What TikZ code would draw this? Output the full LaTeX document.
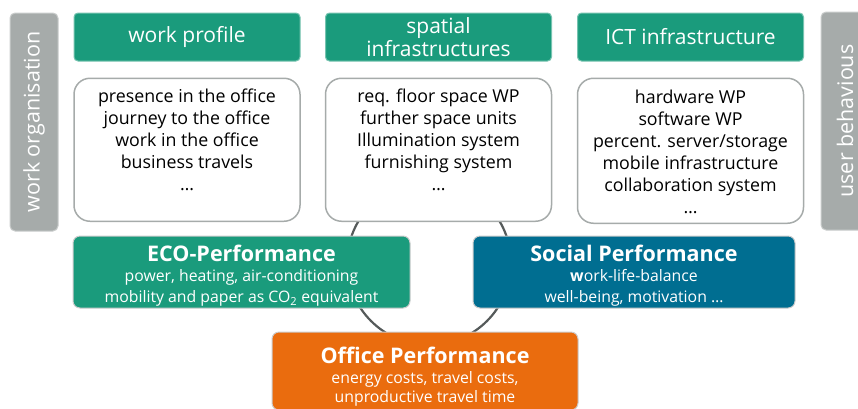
\documentclass[tikz,border=0pt]{standalone}
\usepackage{fontspec}
\setmainfont{Open Sans}
\usetikzlibrary{positioning}

\definecolor{ecogreen}{RGB}{26,155,124}
\definecolor{socblue}{RGB}{0,110,145}
\definecolor{offorange}{RGB}{234,108,14}
\definecolor{bargray}{RGB}{166,171,170}
\definecolor{ringgray}{RGB}{85,90,90}

\tikzset{
    header/.style={fill=ecogreen, draw=ecogreen!60!white, line width=1pt, rounded corners=4pt,
        text=white, minimum width=226pt, minimum height=48pt, inner sep=0pt,
        align=center, font=\fontsize{21}{23}\selectfont},
    listbox/.style={fill=white, draw=bargray, line width=1.5pt, rounded corners=16pt,
        minimum width=226pt, minimum height=143pt, inner sep=0pt,
        font=\fontsize{17.8}{22}\selectfont},
    sidebar/.style={fill=bargray, draw=bargray!60!white, line width=1pt, rounded corners=5pt,
        minimum width=218pt, minimum height=48pt, inner sep=0pt, rotate=90,
        text=white, font=\fontsize{21.5}{23}\selectfont},
    perf/.style={draw=white!80!black, line width=1pt, rounded corners=7pt, text=white,
        inner sep=0pt, align=center, font=\fontsize{15.8}{21}\selectfont},
}
\newcommand{\perftitle}[2]{\rule{0pt}{#1}{\fontsize{21.5}{23}\selectfont\bfseries #2}}
\newcommand{\boxlines}[1]{\parbox[c][122pt][t]{224pt}{\centering #1}}

\begin{document}
\begin{tikzpicture}[x=1pt,y=-1pt]
    \useasboundingbox (0,0) rectangle (858,408);

    % ring behind everything
    \coordinate (hub) at (429,263);
    \draw[ringgray, line width=2.2pt] (hub) circle[radius=82pt];

    % side bars
    \node[sidebar] (orga) at (34,122) {work organisation};
    \node[sidebar] (user) at (845,121) {user behavious};

    % headers
    \node[header] (wp) at (187,37) {work profile};
    \node[header] (sp) at (438.5,37) {spatial\\infrastructures};
    \node[header] (ict) at (690.5,37) {ICT infrastructure};

    % lists
    \node[listbox, below=16pt of wp] (wplist) {\boxlines{presence in the office\\
        journey to the office\\ work in the office\\ business travels\\ \dots}};
    \node[listbox, below=16pt of sp] (splist) {\boxlines{req. floor space WP\\
        further space units\\ Illumination system\\ furnishing system\\ \dots}};
    \node[listbox, below=16pt of ict, minimum height=145pt] (ictlist) {\boxlines{hardware WP\\
        software WP\\ percent. server/storage\\ mobile infrastructure\\ collaboration system\\ \dots}};

    % performance boxes
    \node[perf, fill=ecogreen, minimum width=337pt, minimum height=72pt] (eco) at (241.5,272)
        {\perftitle{23pt}{ECO-Performance}\\[-1pt] power, heating, air-conditioning\\
         mobility and paper as CO\textsubscript{2} equivalent};
    \node[perf, fill=socblue, minimum width=322pt, minimum height=72pt] (soc) at (634,272)
        {\perftitle{23pt}{Social Performance}\\[-1pt] \textbf{w}ork-life-balance\\
         well-being, motivation \dots};
    \node[perf, fill=offorange, minimum width=306pt, minimum height=78pt] (office) at (425,371)
        {\perftitle{27pt}{Office Performance}\\[-1pt] energy costs, travel costs,\\[-2pt]
         unproductive travel time};
\end{tikzpicture}
\end{document}
